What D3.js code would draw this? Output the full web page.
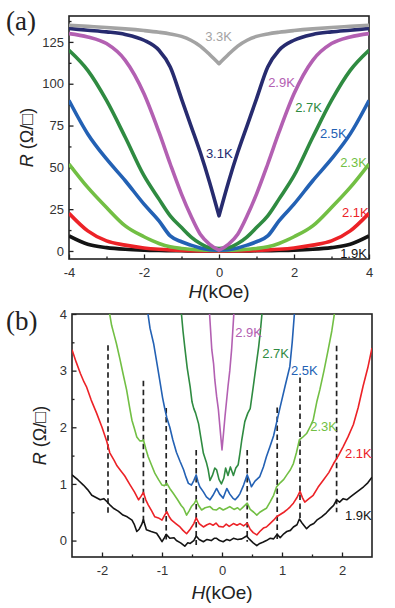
<!DOCTYPE html>
<html>
<head>
<meta charset="utf-8">
<script src="https://cdn.jsdelivr.net/npm/d3@7"></script>
<style>
  body { margin: 0; background: #fff; }
</style>
</head>
<body>
<div id="chart"></div>
<script>

// ---------- panel (a) data : R(H) at several temperatures ----------
var hA = [-4, -3.5, -3, -2.5, -2, -1.6, -1.3, -1, -0.75, -0.5, -0.25, 0, 0.25, 0.5, 0.75, 1, 1.3, 1.6, 2, 2.5, 3, 3.5, 4];
var rA19 = [9, 4, 2, 1, 0.5, 0.3, 0.2, 0.1, 0.05, 0, 0, 0, 0, 0, 0.05, 0.1, 0.2, 0.3, 0.5, 1, 2, 4, 9];
var rA21 = [22.5, 12, 6, 3.5, 1.8, 1, 0.6, 0.3, 0.15, 0.05, 0, 0, 0, 0.05, 0.15, 0.3, 0.6, 1, 1.8, 3.5, 6, 12, 22.5];
var rA23 = [52, 38, 26, 15, 8.5, 4.5, 2.5, 1.5, 1, 0.6, 0.4, 0.3, 0.4, 0.6, 1, 1.5, 2.5, 4.5, 8.5, 15, 26, 38, 52];
var rA25 = [90, 70, 55, 42, 28, 18, 9, 5.5, 3.5, 1.8, 0.8, 0.5, 0.8, 1.8, 3.5, 5.5, 9, 18, 28, 42, 55, 70, 90];
var rA27 = [120, 108, 90, 68, 45, 31, 21, 14, 8.5, 4.5, 2, 1.5, 2, 4.5, 8.5, 14, 21, 31, 45, 68, 90, 108, 120];
var rA29 = [130, 128, 124, 114, 94, 71, 52, 34, 21, 10, 4, 0.5, 4, 10, 21, 34, 52, 71, 94, 114, 124, 128, 130];
var rA31 = [133, 132, 131, 129.5, 126, 120, 110, 91, 75, 59, 41, 21, 41, 59, 75, 91, 110, 120, 126, 129.5, 131, 132, 133];
var rA33 = [135, 134.3, 133.6, 132.8, 131.8, 130.8, 129.8, 128.3, 126, 122.5, 117.5, 112, 117.5, 122.5, 126, 128.3, 129.8, 130.8, 131.8, 132.8, 133.6, 134.3, 135];

var tempsA = ["1.9K", "2.1K", "2.3K", "2.5K", "2.7K", "2.9K", "3.1K", "3.3K"];
var labelPosA = [[3.23, -4.2], [3.28, 20.3], [3.23, 50.2], [2.69, 67.6], [2.03, 83], [1.31, 98], [-0.35, 55.6], [-0.37, 125.6]];

// ---------- panel (b) data : low field region, [H, R] ----------
var rB19 = [[-2.5, 1.16], [-2.4, 1.07], [-2.31, 0.98], [-2.24, 0.9], [-2.17, 0.8], [-2.1, 0.76], [-2.03, 0.72], [-1.97, 0.74], [-1.92, 0.69], [-1.86, 0.62], [-1.81, 0.57], [-1.73, 0.52], [-1.65, 0.45], [-1.58, 0.42], [-1.5, 0.36], [-1.46, 0.28], [-1.42, 0.16], [-1.38, 0.2], [-1.34, 0.28], [-1.31, 0.37], [-1.28, 0.26], [-1.26, 0.19], [-1.18, 0.16], [-1.09, 0.13], [-1.04, 0.05], [-1.0, -0.02], [-0.96, 0.05], [-0.93, 0.11], [-0.87, 0.04], [-0.8, 0.05], [-0.76, 0.0], [-0.69, -0.04], [-0.62, -0.1], [-0.57, -0.04], [-0.53, -0.05], [-0.47, 0.0], [-0.43, 0.08], [-0.38, 0.02], [-0.31, -0.02], [-0.25, 0.02], [-0.18, 0.0], [-0.13, 0.04], [-0.09, 0.04], [-0.04, 0.0], [0.02, -0.02], [0.08, 0.02], [0.13, 0.0], [0.19, 0.04], [0.26, 0.02], [0.33, 0.03], [0.41, 0.08], [0.46, 0.02], [0.52, -0.04], [0.58, -0.09], [0.63, -0.05], [0.68, -0.03], [0.74, 0.0], [0.8, 0.04], [0.86, 0.03], [0.92, 0.11], [0.97, 0.05], [1.03, 0.12], [1.08, 0.16], [1.14, 0.18], [1.19, 0.24], [1.25, 0.28], [1.29, 0.38], [1.34, 0.3], [1.41, 0.21], [1.47, 0.27], [1.53, 0.3], [1.58, 0.36], [1.66, 0.42], [1.74, 0.49], [1.8, 0.56], [1.86, 0.62], [1.91, 0.72], [1.96, 0.68], [2.02, 0.74], [2.08, 0.72], [2.14, 0.77], [2.2, 0.82], [2.25, 0.86], [2.3, 0.9], [2.36, 0.95], [2.43, 1.02], [2.5, 1.12]];
var rB21 = [[-2.5, 3.37], [-2.43, 3.15], [-2.36, 2.95], [-2.3, 2.8], [-2.26, 2.72], [-2.18, 2.48], [-2.09, 2.25], [-2.0, 2.0], [-1.92, 1.75], [-1.87, 1.55], [-1.8, 1.42], [-1.75, 1.32], [-1.7, 1.25], [-1.62, 1.14], [-1.53, 0.98], [-1.46, 0.86], [-1.39, 0.72], [-1.35, 0.78], [-1.31, 0.85], [-1.27, 0.72], [-1.23, 0.63], [-1.17, 0.52], [-1.12, 0.42], [-1.06, 0.4], [-1.0, 0.36], [-0.96, 0.44], [-0.92, 0.51], [-0.88, 0.42], [-0.84, 0.36], [-0.77, 0.3], [-0.7, 0.24], [-0.65, 0.18], [-0.59, 0.12], [-0.53, 0.2], [-0.47, 0.3], [-0.43, 0.4], [-0.38, 0.3], [-0.31, 0.24], [-0.25, 0.28], [-0.2, 0.3], [-0.15, 0.27], [-0.1, 0.31], [-0.05, 0.25], [0.02, 0.24], [0.07, 0.29], [0.12, 0.25], [0.19, 0.3], [0.25, 0.27], [0.3, 0.3], [0.36, 0.26], [0.42, 0.31], [0.47, 0.2], [0.52, 0.14], [0.58, 0.1], [0.63, 0.16], [0.69, 0.22], [0.74, 0.24], [0.8, 0.3], [0.86, 0.36], [0.91, 0.42], [0.97, 0.46], [1.03, 0.5], [1.08, 0.54], [1.14, 0.6], [1.19, 0.66], [1.25, 0.76], [1.3, 0.87], [1.34, 0.76], [1.38, 0.68], [1.45, 0.74], [1.52, 0.8], [1.6, 0.94], [1.69, 1.07], [1.78, 1.2], [1.86, 1.36], [1.94, 1.5], [2.02, 1.66], [2.1, 1.83], [2.19, 2.05], [2.27, 2.35], [2.35, 2.72], [2.43, 3.05], [2.5, 3.4]];
var rB23 = [[-1.88, 4.05], [-1.84, 3.8], [-1.79, 3.6], [-1.76, 3.48], [-1.7, 3.2], [-1.65, 2.95], [-1.59, 2.66], [-1.54, 2.35], [-1.5, 2.12], [-1.46, 1.98], [-1.42, 1.83], [-1.37, 1.76], [-1.33, 1.76], [-1.31, 1.78], [-1.27, 1.62], [-1.23, 1.48], [-1.17, 1.32], [-1.12, 1.19], [-1.06, 1.08], [-1.0, 0.98], [-0.96, 0.97], [-0.92, 1.01], [-0.87, 0.92], [-0.81, 0.83], [-0.74, 0.72], [-0.68, 0.62], [-0.64, 0.57], [-0.59, 0.45], [-0.55, 0.52], [-0.51, 0.6], [-0.46, 0.66], [-0.43, 0.72], [-0.39, 0.62], [-0.34, 0.54], [-0.28, 0.58], [-0.2, 0.6], [-0.15, 0.55], [-0.09, 0.54], [-0.04, 0.58], [0.02, 0.54], [0.08, 0.57], [0.13, 0.6], [0.2, 0.55], [0.26, 0.58], [0.3, 0.54], [0.36, 0.6], [0.42, 0.66], [0.47, 0.55], [0.53, 0.5], [0.58, 0.45], [0.63, 0.5], [0.69, 0.54], [0.74, 0.57], [0.8, 0.68], [0.86, 0.8], [0.91, 0.95], [0.97, 1.02], [1.03, 1.08], [1.08, 1.16], [1.14, 1.25], [1.19, 1.36], [1.24, 1.55], [1.29, 1.78], [1.34, 1.82], [1.41, 1.89], [1.47, 2.01], [1.52, 2.13], [1.58, 2.45], [1.63, 2.66], [1.7, 3.0], [1.77, 3.37], [1.83, 3.7], [1.88, 4.05]];
var rB25 = [[-1.24, 4.05], [-1.2, 3.75], [-1.14, 3.48], [-1.08, 3.1], [-1.03, 2.78], [-0.99, 2.52], [-0.95, 2.31], [-0.92, 2.17], [-0.87, 2.0], [-0.82, 1.78], [-0.76, 1.56], [-0.7, 1.4], [-0.64, 1.25], [-0.6, 1.12], [-0.56, 1.01], [-0.51, 0.98], [-0.47, 1.06], [-0.43, 1.16], [-0.4, 1.04], [-0.37, 0.95], [-0.31, 0.86], [-0.26, 0.77], [-0.2, 0.72], [-0.15, 0.8], [-0.09, 0.92], [-0.04, 0.82], [0.02, 0.75], [0.08, 0.92], [0.13, 0.82], [0.18, 0.75], [0.22, 0.72], [0.27, 0.78], [0.3, 0.83], [0.36, 0.98], [0.42, 1.16], [0.46, 1.05], [0.49, 0.95], [0.55, 1.05], [0.63, 1.13], [0.69, 1.3], [0.74, 1.48], [0.8, 1.66], [0.86, 1.85], [0.92, 2.13], [0.97, 2.36], [1.05, 2.72], [1.13, 3.07], [1.17, 3.5], [1.21, 4.05]];
var rB27 = [[-0.68, 4.05], [-0.65, 3.7], [-0.62, 3.41], [-0.58, 3.05], [-0.53, 2.71], [-0.5, 2.45], [-0.47, 2.33], [-0.44, 2.25], [-0.39, 2.06], [-0.35, 1.8], [-0.31, 1.54], [-0.26, 1.38], [-0.23, 1.25], [-0.2, 1.06], [-0.16, 1.15], [-0.12, 1.28], [-0.09, 1.25], [-0.05, 1.08], [-0.01, 1.0], [0.03, 1.1], [0.06, 1.28], [0.1, 1.15], [0.14, 1.3], [0.19, 1.15], [0.23, 1.28], [0.27, 1.34], [0.3, 1.55], [0.33, 1.78], [0.38, 2.1], [0.43, 2.25], [0.47, 2.33], [0.52, 2.71], [0.57, 3.1], [0.61, 3.41], [0.64, 3.7], [0.67, 4.05]];
var rB29 = [[-0.21, 4.05], [-0.17, 3.37], [-0.14, 3.12], [-0.12, 2.84], [-0.09, 2.55], [-0.06, 2.31], [-0.03, 1.95], [0.0, 1.6], [0.03, 1.95], [0.05, 2.19], [0.1, 2.72], [0.13, 3.0], [0.16, 3.37], [0.2, 4.05]];

var tempsB = ["1.9K", "2.1K", "2.3K", "2.5K", "2.7K", "2.9K"];
var labelPosB = [[2.05, 0.36], [2.05, 1.46], [1.47, 1.93], [1.15, 2.92], [0.67, 3.23], [0.22, 3.6]];

// dashed markers: field, top R, bottom R
var dashH = [-1.9, -1.31, -0.93, -0.43, 0.42, 0.92, 1.3, 1.91];
var dashTop = [3.45, 2.82, 2.34, 1.6, 1.6, 2.35, 2.88, 3.44];
var dashBot = [0.47, 0.33, 0.02, -0.08, -0.02, 0.0, 0.36, 0.5];

// one colour per temperature
var colors = {
    "1.9K": "#141414", "2.1K": "#ec2227", "2.3K": "#72bf44", "2.5K": "#2361b4",
    "2.7K": "#2f8b41", "2.9K": "#b360b2", "3.1K": "#272b6f", "3.3K": "#a3a3a3"
};

var sans = "Arial, 'Liberation Sans', 'DejaVu Sans', sans-serif";

var svg = d3.select("#chart").append("svg")
    .attr("width", 395)
    .attr("height", 608)
    .style("font-family", sans);

// plain hyphen minus like the original
var fmt = function (d) { return String(d); };

// draws frame, ticks and titles for one panel, returns the scales
function makePanel(o) {
    var x = d3.scaleLinear().domain(o.xDomain).range([o.left, o.right]);
    var y = d3.scaleLinear().domain(o.yDomain).range([o.bottom, o.top]);
    var g = svg.append("g");

    // minor ticks
    g.append("g")
        .attr("transform", "translate(0," + o.bottom + ")")
        .call(d3.axisBottom(x).tickValues(o.xMinor).tickSize(-2.5).tickSizeOuter(0).tickFormat(""));
    g.append("g")
        .attr("transform", "translate(" + o.left + ",0)")
        .call(d3.axisLeft(y).tickValues(o.yMinor).tickSize(-2.5).tickSizeOuter(0).tickFormat(""));

    // major ticks with labels
    g.append("g")
        .attr("transform", "translate(0," + o.bottom + ")")
        .call(d3.axisBottom(x).tickValues(o.xTicks).tickSize(-4.5).tickSizeOuter(0).tickPadding(9).tickFormat(fmt));
    g.append("g")
        .attr("transform", "translate(" + o.left + ",0)")
        .call(d3.axisLeft(y).tickValues(o.yTicks).tickSize(-4.5).tickSizeOuter(0).tickPadding(5).tickFormat(fmt));
    g.selectAll(".domain").remove();
    g.selectAll(".tick line").attr("stroke", "#222").attr("stroke-width", 1.3);
    g.selectAll(".tick text").attr("font-size", 13).attr("fill", "#333")
        .attr("font-family", sans);

    // frame
    g.append("rect")
        .attr("x", o.left).attr("y", o.top)
        .attr("width", o.right - o.left).attr("height", o.bottom - o.top)
        .attr("fill", "none").attr("stroke", "#222").attr("stroke-width", 1.6);

    // clip for curves
    svg.append("clipPath").attr("id", o.id)
        .append("rect")
        .attr("x", o.left).attr("y", o.top)
        .attr("width", o.right - o.left).attr("height", o.bottom - o.top);

    // panel letter
    svg.append("text")
        .attr("x", 6).attr("y", o.letterY)
        .style("font-family", "'Liberation Serif', 'Times New Roman', 'DejaVu Serif', serif")
        .attr("font-size", 27).attr("fill", "#222")
        .text(o.letter);

    // y title
    var yt = svg.append("text")
        .attr("transform", "translate(" + o.yTitleX + "," + ((o.top + o.bottom) / 2) + ") rotate(-90)")
        .attr("text-anchor", "middle")
        .attr("font-size", 18).attr("fill", "#222");
    yt.append("tspan").attr("font-style", "italic").text("R");
    yt.append("tspan").text(" (\u03A9/\u25A1)");

    // x title
    var xt = svg.append("text")
        .attr("x", x(0)).attr("y", o.xTitleY)
        .attr("text-anchor", "middle")
        .attr("font-size", 19).attr("fill", "#222");
    xt.append("tspan").attr("font-style", "italic").text("H");
    xt.append("tspan").text("(kOe)");

    return { x: x, y: y };
}

// ---------- panel (a) ----------
var pa = makePanel({
    id: "clipA", letter: "(a)", letterY: 30,
    left: 69, right: 369, top: 16, bottom: 259,
    xDomain: [-4, 4], yDomain: [-4.8, 140.5],
    xTicks: [-4, -2, 0, 2, 4], xMinor: [-3, -1, 1, 3],
    yTicks: [0, 25, 50, 75, 100, 125], yMinor: [12.5, 37.5, 62.5, 87.5, 112.5, 137.5],
    yTitleX: 33, xTitleY: 298
});

var seriesA = [rA19, rA21, rA23, rA25, rA27, rA29, rA31, rA33];
var lineA = d3.line()
    .x(function (d) { return pa.x(d[0]); })
    .y(function (d) { return pa.y(d[1]); })
    .curve(d3.curveMonotoneX);

// each branch drawn on its own so the zero-field cusp stays sharp
var mid = hA.indexOf(0);
function branchPath(r) {
    var pts = hA.map(function (h, i) { return [h, r[i]]; });
    var right = lineA(pts.slice(mid));
    return lineA(pts.slice(0, mid + 1)) + "L" + right.slice(1);
}

svg.append("g")
    .attr("clip-path", "url(#clipA)")
    .selectAll("path")
    .data(seriesA)
    .enter().append("path")
    .attr("d", branchPath)
    .attr("fill", "none")
    .attr("stroke", function (r, i) { return colors[tempsA[i]]; })
    .attr("stroke-width", 3.6)
    .attr("stroke-linejoin", "round");

svg.append("g").selectAll("text")
    .data(tempsA)
    .enter().append("text")
    .attr("x", function (t, i) { return pa.x(labelPosA[i][0]); })
    .attr("y", function (t, i) { return pa.y(labelPosA[i][1]); })
    .attr("font-size", 13)
    .attr("fill", function (t) { return colors[t]; })
    .text(function (t) { return t; });

// ---------- panel (b) ----------
var pb = makePanel({
    id: "clipB", letter: "(b)", letterY: 330,
    left: 72, right: 372, top: 314, bottom: 557,
    xDomain: [-2.5, 2.5], yDomain: [-0.29, 4],
    xTicks: [-2, -1, 0, 1, 2], xMinor: [-1.5, -0.5, 0.5, 1.5],
    yTicks: [0, 1, 2, 3, 4], yMinor: [0.5, 1.5, 2.5, 3.5],
    yTitleX: 46, xTitleY: 599
});

// dashed markers
svg.append("g").selectAll("line")
    .data(dashH)
    .enter().append("line")
    .attr("x1", function (h) { return pb.x(h); })
    .attr("x2", function (h) { return pb.x(h); })
    .attr("y1", function (h, i) { return pb.y(dashTop[i]); })
    .attr("y2", function (h, i) { return pb.y(dashBot[i]); })
    .attr("stroke", "#222")
    .attr("stroke-width", 1.7)
    .attr("stroke-dasharray", "5.5,3.5");

var seriesB = [rB19, rB21, rB23, rB25, rB27, rB29];
var lineB = d3.line()
    .x(function (d) { return pb.x(d[0]); })
    .y(function (d) { return pb.y(d[1]); });

svg.append("g")
    .attr("clip-path", "url(#clipB)")
    .selectAll("path")
    .data(seriesB)
    .enter().append("path")
    .attr("d", lineB)
    .attr("fill", "none")
    .attr("stroke", function (r, i) { return colors[tempsB[i]]; })
    .attr("stroke-width", 1.6)
    .attr("stroke-linejoin", "round");

svg.append("g").selectAll("text")
    .data(tempsB)
    .enter().append("text")
    .attr("x", function (t, i) { return pb.x(labelPosB[i][0]); })
    .attr("y", function (t, i) { return pb.y(labelPosB[i][1]); })
    .attr("font-size", 13)
    .attr("fill", function (t) { return colors[t]; })
    .text(function (t) { return t; });

</script>
</body>
</html>
